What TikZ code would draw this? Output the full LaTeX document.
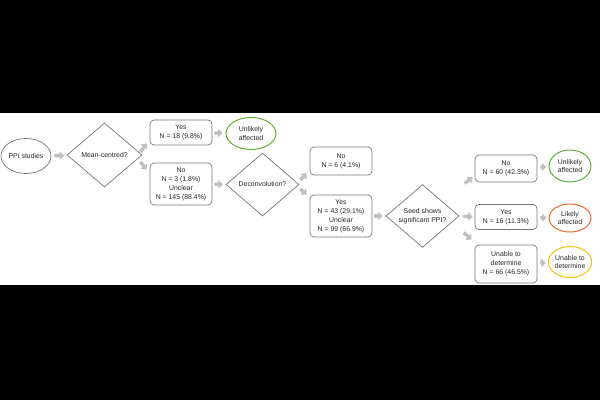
\documentclass[tikz,border=0pt]{standalone}
\usepackage{fontspec}
\setmainfont{Liberation Sans}
\usetikzlibrary{shapes.geometric,arrows.meta}
\definecolor{boxgray}{RGB}{118,118,118}
\definecolor{arrgray}{RGB}{191,191,191}
\definecolor{okgreen}{RGB}{96,176,56}
\definecolor{riskorange}{RGB}{234,104,44}
\definecolor{unkyellow}{RGB}{247,190,20}
\begin{document}
\begin{tikzpicture}[x=1pt,y=-1pt,
  txt/.style={font=\fontsize{6.9}{8.9}\selectfont, text=black!85, align=center, inner sep=0pt},
  box/.style={txt, draw=boxgray, line width=0.7pt, rounded corners=4pt, minimum width=62pt},
  oval/.style={txt, ellipse, draw=boxgray, line width=0.7pt},
  choice/.style={txt, diamond, draw=boxgray, line width=0.7pt},
  arr/.style={arrgray, line width=3.4pt, -{Triangle[length=4.5pt,width=8pt]}}]
\useasboundingbox (0,0) rectangle (600,400);
%letterbox bands
\fill[black] (0,0) rectangle (600,113);
\fill[black] (0,285) rectangle (600,400);
%start and first question
\node[oval, minimum width=50pt, minimum height=35pt] (ppi) at (26,156) {PPI studies};
\node[choice, minimum width=75pt, minimum height=64pt] (mc) at (104.5,155) {Mean-centred?};
\node[box, minimum height=25pt] (yes1) at (181,132.5) {Yes\\N = 18 (9.8\%)};
\node[box, minimum height=42pt] (no1) at (181,184) {No\\N = 3 (1.8\%)\\Unclear\\N = 145 (88.4\%)};
\node[oval, draw=okgreen, line width=1pt, minimum width=50pt, minimum height=32pt] (unl1) at (251,133.5) {Unlikely\\affected};
%deconvolution
\node[choice, minimum width=73pt, minimum height=63pt] (dc) at (262.5,184.5) {Deconvolution?};
\node[box, minimum height=28pt] (no2) at (341,161) {No\\N = 6 (4.1\%)};
\node[box, minimum height=42pt] (yes2) at (341,216) {Yes\\N = 43 (29.1\%)\\Unclear\\N = 99 (66.9\%)};
%seed ppi
\node[choice, minimum width=73pt, minimum height=62pt] (seed) at (422.5,216) {Seed shows\\significant PPI?};
\node[box, minimum height=27pt] (no3) at (506,168.5) {No\\N = 60 (42.3\%)};
\node[box, minimum height=25pt] (yes3) at (506,217) {Yes\\N = 16 (11.3\%)};
\node[box, minimum height=38pt] (und) at (506,264) {Unable to\\determine\\N = 66 (46.5\%)};
%outcomes
\node[oval, draw=okgreen, line width=1pt, minimum width=42pt, minimum height=32pt] (unl2) at (570,166) {Unlikely\\affected};
\node[oval, draw=riskorange, line width=1pt, minimum width=42pt, minimum height=28pt] (lik) at (570,218) {Likely\\affected};
\node[oval, draw=unkyellow, line width=1pt, minimum width=42pt, minimum height=31pt] (und2) at (570,262) {Unable to\\determine};
%arrows
\draw[arr, shorten <=3pt, shorten >=3pt] (ppi) -- (mc);
\draw[arr] ([shift={(-2,-3)}]mc.east) -- ([shift={(-3,-2)}]yes1.south west);
\draw[arr] ([shift={(-2,7)}]mc.east) -- ([shift={(-3,7)}]no1.north west);
\draw[arr, shorten <=2pt, shorten >=3pt] (yes1) -- (unl1);
\draw[arr, shorten <=2pt, shorten >=3pt] (no1) -- (dc);
\draw[arr] ([shift={(1,-4.5)}]dc.east) -- ([shift={(-3,-2)}]no2.south west);
\draw[arr] ([shift={(1,4.5)}]dc.east) -- ([shift={(-3,0)}]yes2.north west);
\draw[arr, shorten <=2pt, shorten >=3pt] (yes2) -- (seed);
\draw[arr] ([shift={(-10,1)}]no3.south west) -- ([shift={(-2,-5)}]no3.south west);
\draw[arr, shorten <=4pt, shorten >=2pt] (seed) -- (yes3);
\draw[arr] ([shift={(-11,-12)}]und.north west) -- ([shift={(-3,-5)}]und.north west);
\draw[arr, shorten <=3pt, shorten >=2pt] (no3) -- (unl2);
\draw[arr, shorten <=3pt, shorten >=2pt] (yes3) -- (lik);
\draw[arr, shorten <=3pt, shorten >=2pt] (und) -- (und2);
\end{tikzpicture}
\end{document}
